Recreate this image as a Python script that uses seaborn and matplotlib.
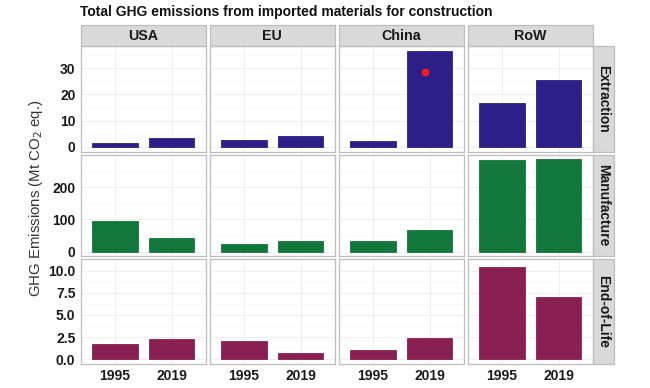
import numpy as np
import pandas as pd
import seaborn as sns
import matplotlib.pyplot as plt
from matplotlib.patches import Rectangle

# values (Mt CO2 eq.)
regions = ['USA', 'EU', 'China', 'RoW']
stages = ['Extraction', 'Manufacture', 'End-of-Life']
years = ['1995', '2019']

extraction = {'USA': [1.5, 3.5], 'EU': [2.5, 4.1], 'China': [2.4, 36.6], 'RoW': [16.8, 25.5]}
manufacture = {'USA': [95, 43], 'EU': [25, 33], 'China': [34, 68], 'RoW': [283, 286]}
end_of_life = {'USA': [1.75, 2.3], 'EU': [2.05, 0.75], 'China': [1.1, 2.4], 'RoW': [10.45, 7.0]}

marker_val = 28.5   # red dot on China 2019 extraction

stage_colors = {'Extraction': '#2D1E88', 'Manufacture': '#12773A', 'End-of-Life': '#8A1F52'}
row_ticks = {'Extraction': [0, 10, 20, 30], 'Manufacture': [0, 100, 200],
             'End-of-Life': [0, 2.5, 5, 7.5, 10]}

rows = []
for stage, vals in zip(stages, [extraction, manufacture, end_of_life]):
    for reg in regions:
        for yr, v in zip(years, vals[reg]):
            rows.append({'stage': stage, 'region': reg, 'year': yr, 'value': v})
df = pd.DataFrame(rows)

sns.set_style('white')
plt.rcParams['font.family'] = ['Liberation Sans', 'DejaVu Sans']

fig, axes = plt.subplots(3, 4, figsize=(6.5, 3.88), dpi=100, sharey='row',
                         gridspec_kw=dict(left=0.1246, right=0.912, top=0.881, bottom=0.062,
                                          wspace=0.035, hspace=0.03, height_ratios=[106, 102, 105]))

for i, stage in enumerate(stages):
    smax = df[df['stage'] == stage]['value'].max()
    pad = smax * 0.05
    for j, reg in enumerate(regions):
        ax = axes[i, j]
        sub = df[(df['stage'] == stage) & (df['region'] == reg)]
        sns.barplot(data=sub, x='year', y='value', order=years, color=stage_colors[stage],
                    width=0.8, errorbar=None, saturation=1, ax=ax, zorder=3,
                    edgecolor=stage_colors[stage], linewidth=0.6)
        ax.set_xlim(-0.6, 1.6)
        ax.set_ylim(-pad, smax + pad)
        ax.set_xlabel('')
        ax.set_ylabel('')
        ax.set_yticks(row_ticks[stage])
        ax.set_yticks([(a + b) / 2 for a, b in zip(row_ticks[stage][:-1], row_ticks[stage][1:])]
                      + [row_ticks[stage][-1] + (row_ticks[stage][1] - row_ticks[stage][0]) / 2], minor=True)
        ax.grid(True, which='major', color='#EBEBEB', lw=0.6, zorder=0)
        ax.grid(True, which='minor', axis='y', color='#F4F4F4', lw=0.4, zorder=0)
        ax.set_axisbelow(True)
        for sp in ax.spines.values():
            sp.set_visible(True)
            sp.set_color('#BDBDBD')
            sp.set_linewidth(0.9)
        ax.tick_params(which='minor', length=0)
        ax.tick_params(axis='both', which='major', length=2.5, width=0.6, color='#999999',
                       labelsize=10, pad=1.5)
        for lab in ax.get_yticklabels() + ax.get_xticklabels():
            lab.set_fontweight('bold')
            lab.set_color('#1A1A1A')
        if stage == 'End-of-Life':
            ax.yaxis.set_major_formatter(plt.FormatStrFormatter('%.1f'))
        if i < 2:
            ax.tick_params(axis='x', labelbottom=False, length=0)
        if j > 0:
            ax.tick_params(axis='y', labelleft=False, length=0)

        # top strips
        if i == 0:
            h = 21 / 106
            ax.add_patch(Rectangle((0, 1), 1, h, transform=ax.transAxes, clip_on=False,
                                   facecolor='#D9D9D9', edgecolor='#BDBDBD', lw=0.9))
            ax.text(0.5, 1 + h / 2, reg, transform=ax.transAxes, ha='center', va='center',
                    fontsize=10.3, fontweight='bold', color='#1A1A1A')
        # right strips
        if j == 3:
            w = 21 / 124
            ax.add_patch(Rectangle((1, 0), w, 1, transform=ax.transAxes, clip_on=False,
                                   facecolor='#D9D9D9', edgecolor='#BDBDBD', lw=0.9))
            ax.text(1 + w / 2, 0.5, stage, transform=ax.transAxes, ha='center', va='center',
                    rotation=-90, fontsize=10, fontweight='bold', color='#1A1A1A')

axes[0, 2].plot([0.91], [marker_val], 'o', color='#FF1A1A', markersize=4.5, zorder=5)

fig.text(36 / 650, 1 - 198 / 388, 'GHG Emissions (Mt CO$_2$ eq.)', rotation=90, ha='center', va='center',
         fontsize=10.8, color='#333333')
fig.text(80 / 650, 1 - 12 / 388, 'Total GHG emissions from imported materials for construction',
         ha='left', va='center', fontsize=10, fontweight='bold', color='#111111')

fig.savefig('out.png', dpi=100)
